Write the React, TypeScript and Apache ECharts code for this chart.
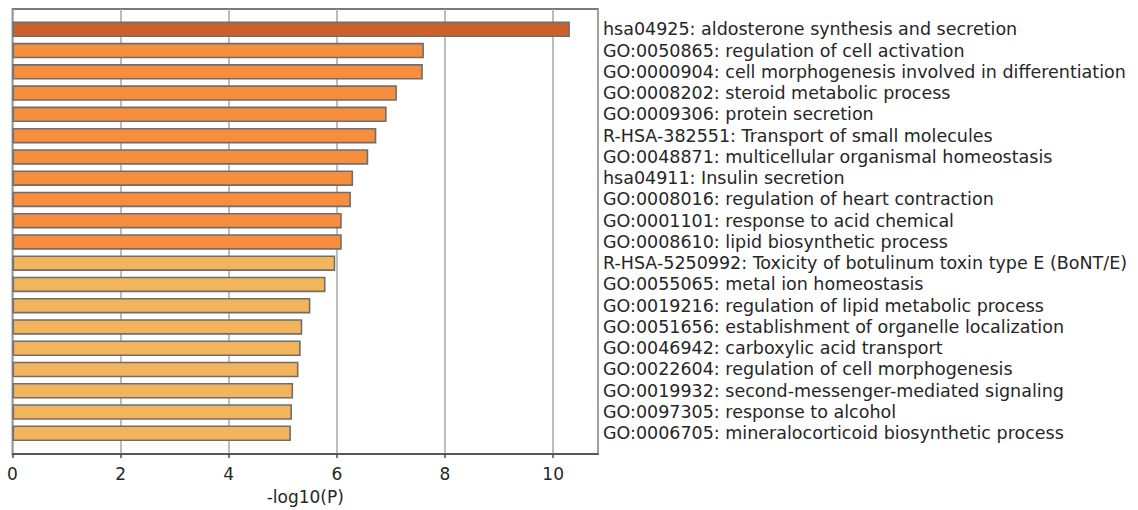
import React, { useEffect, useRef } from "react";
import * as echarts from "echarts";

const terms: string[] = [
  "hsa04925: aldosterone synthesis and secretion",
  "GO:0050865: regulation of cell activation",
  "GO:0000904: cell morphogenesis involved in differentiation",
  "GO:0008202: steroid metabolic process",
  "GO:0009306: protein secretion",
  "R-HSA-382551: Transport of small molecules",
  "GO:0048871: multicellular organismal homeostasis",
  "hsa04911: Insulin secretion",
  "GO:0008016: regulation of heart contraction",
  "GO:0001101: response to acid chemical",
  "GO:0008610: lipid biosynthetic process",
  "R-HSA-5250992: Toxicity of botulinum toxin type E (BoNT/E)",
  "GO:0055065: metal ion homeostasis",
  "GO:0019216: regulation of lipid metabolic process",
  "GO:0051656: establishment of organelle localization",
  "GO:0046942: carboxylic acid transport",
  "GO:0022604: regulation of cell morphogenesis",
  "GO:0019932: second-messenger-mediated signaling",
  "GO:0097305: response to alcohol",
  "GO:0006705: mineralocorticoid biosynthetic process",
];

const logP: number[] = [
  10.31, 7.61, 7.59, 7.11, 6.92, 6.73, 6.58, 6.3, 6.26, 6.09, 6.09, 5.97, 5.79,
  5.51, 5.36, 5.33, 5.29, 5.19, 5.17, 5.15,
];

// significance tier of each term (1 = strongest)
const tiers: number[] = [1, 2, 2, 2, 2, 2, 2, 2, 2, 2, 2, 3, 3, 3, 3, 3, 3, 3, 3, 3];

const xTicks: number[] = [0, 2, 4, 6, 8, 10];

const tierColor: Record<number, string> = {
  1: "#CE612B",
  2: "#F68E3D",
  3: "#F3B55B",
};

const X_MAX = 10.83;
const FONT = "'DejaVu Sans', sans-serif";

export default function App() {
  const ref = useRef<HTMLDivElement>(null);
  useEffect(() => {
    if (!ref.current) return;
    const chart = echarts.init(ref.current, undefined, { renderer: "svg" });
    chart.setOption({
      animation: false,
      backgroundColor: "#ffffff",
      grid: [
        {
          left: 12.5,
          right: 540,
          top: 9,
          bottom: 56,
          show: true,
          borderColor: "#4d4d4d",
          borderWidth: 1.6,
          backgroundColor: "transparent",
          z: 0,
        },
        {
          left: 12.5,
          right: 540,
          top: 18.7,
          bottom: 66.1,
        },
      ],
      xAxis: [
        {
          gridIndex: 0,
          type: "value",
          min: 0,
          max: X_MAX,
          interval: 2,
          name: "-log10(P)",
          nameLocation: "middle",
          nameGap: 34,
          nameTextStyle: { fontFamily: FONT, fontSize: 17, color: "#262626" },
          axisLine: { show: true, lineStyle: { color: "#4d4d4d", width: 1.6 } },
          axisTick: { show: true, length: 4, lineStyle: { color: "#4d4d4d", width: 1.5 } },
          axisLabel: {
            fontFamily: FONT,
            fontSize: 17,
            color: "#262626",
            margin: 11,
            showMaxLabel: false,
            formatter: (v: number) => (xTicks.includes(v) ? String(v) : ""),
          },
          splitLine: { show: true, lineStyle: { color: "#adadad", width: 1.6 } },
        },
        {
          gridIndex: 1,
          type: "value",
          min: 0,
          max: X_MAX,
          show: false,
          splitLine: { show: false },
        },
      ],
      yAxis: [
        {
          gridIndex: 0,
          type: "value",
          show: false,
          splitLine: { show: false },
        },
        {
          gridIndex: 1,
          type: "category",
          inverse: true,
          position: "right",
          data: terms,
          axisLine: { show: false },
          axisTick: { show: false },
          splitLine: { show: false },
          axisLabel: {
            interval: 0,
            fontFamily: FONT,
            fontSize: 17.5,
            color: "#262626",
            margin: 5,
            align: "left",
          },
        },
      ],
      series: [
        {
          type: "bar",
          xAxisIndex: 1,
          yAxisIndex: 1,
          barWidth: 15.5,
          z: 3,
          data: logP.map((v, i) => ({
            value: v,
            itemStyle: {
              color: tierColor[tiers[i]],
              borderColor: "#6e6e6e",
              borderWidth: 1.6,
            },
          })),
        },
      ],
    });
    return () => chart.dispose();
  }, []);
  return (
    <div
      ref={ref}
      style={{ position: "absolute", left: 0, top: 0, width: 1138, height: 510 }}
    />
  );
}
